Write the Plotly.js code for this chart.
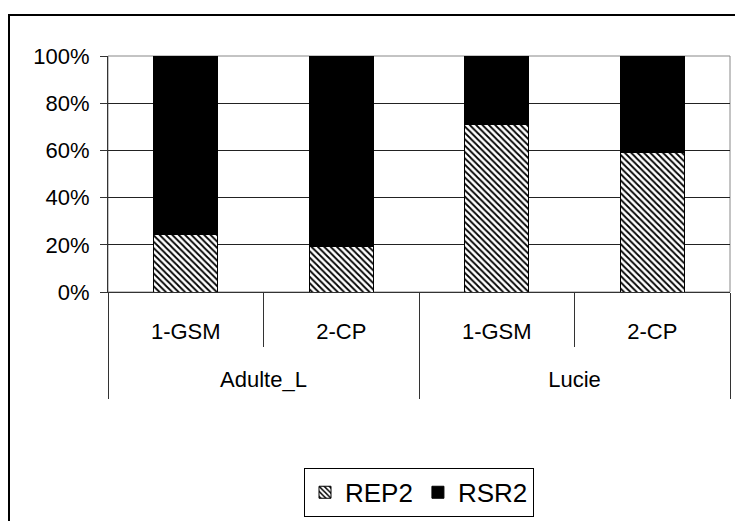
<!DOCTYPE html>
<html>
<head>
<meta charset="utf-8">
<script src="https://cdn.plot.ly/plotly-3.0.1.min.js"></script>
<style>
  html, body { margin: 0; padding: 0; background: #fff; }
  #wrap { position: relative; width: 735px; height: 521px; overflow: hidden; }
  #chart { width: 735px; height: 521px; }
  #frame { position: absolute; left: 8px; top: 14px; width: 800px; height: 600px;
           border: 2px solid #000; pointer-events: none; box-sizing: border-box; }
</style>
</head>
<body>
<div id="wrap">
  <div id="chart"></div>
  <div id="frame"></div>
</div>
<script>
var groups = ["Adulte_L", "Adulte_L", "Lucie", "Lucie"];
var categories = ["1-GSM", "2-CP", "1-GSM", "2-CP"];
var rep2 = [0.244, 0.192, 0.708, 0.593];
var rsr2 = [0.756, 0.808, 0.292, 0.407];
var yTicks = [0, 0.2, 0.4, 0.6, 0.8, 1.0];

var FONT = "Liberation Sans, Arial, sans-serif";

// positions derived from the category list
var idx = categories.map(function (_, i) { return i; });
var catBounds = [-0.5].concat(idx.map(function (i) { return i + 0.5; }));
var groupNames = [], groupCenters = [], groupBounds = [-0.5];
groups.forEach(function (g, i) {
  if (groupNames.length === 0 || groupNames[groupNames.length - 1] !== g) {
    groupNames.push(g);
    groupCenters.push([i]);
    if (i > 0) groupBounds.push(i - 0.5);
  } else {
    groupCenters[groupCenters.length - 1].push(i);
  }
});
groupBounds.push(idx.length - 0.5);
groupCenters = groupCenters.map(function (a) { return (a[0] + a[a.length - 1]) / 2; });
var xRange = [-0.5, idx.length - 0.5];

var traces = [
  {
    type: "bar", name: "REP2",
    x: idx, y: rep2,
    marker: {
      color: "#ffffff",
      line: { color: "#000", width: 1 },
      pattern: { shape: "\\", fgcolor: "#000", bgcolor: "#fff", size: 4.5, solidity: 0.4 }
    },
    hoverinfo: "skip"
  },
  {
    type: "bar", name: "RSR2",
    x: idx, y: rsr2,
    marker: { color: "#000", line: { color: "#000", width: 1 } },
    hoverinfo: "skip"
  },
  {
    type: "scatter", mode: "markers", x: groupCenters, y: groupCenters.map(function () { return null; }),
    xaxis: "x2", yaxis: "y", showlegend: false, hoverinfo: "skip"
  }
];

var layout = {
  width: 735, height: 521,
  margin: { l: 108, r: 5, t: 56, b: 229 },
  paper_bgcolor: "#fff", plot_bgcolor: "#fff",
  font: { family: FONT, size: 22, color: "#000" },
  barmode: "stack",
  bargap: 0.59,
  showlegend: true,
  legend: {
    orientation: "h",
    xref: "paper", x: 0.5, xanchor: "center",
    yref: "container", y: 0.102, yanchor: "top",
    bordercolor: "#000", borderwidth: 1,
    font: { family: FONT, size: 26, color: "#000" },
    itemclick: false, itemdoubleclick: false,
    traceorder: "normal"
  },
  xaxis: {
    range: xRange, fixedrange: true,
    tickmode: "array", tickvals: idx, ticktext: categories,
    ticks: "", showline: true, linecolor: "#333", linewidth: 1,
    minor: { tickmode: "array", tickvals: catBounds, ticks: "outside", ticklen: 54,
             tickcolor: "#333", tickwidth: 1, showgrid: false },
    ticklabelstandoff: 20,
    showgrid: false, zeroline: false,
    tickfont: { family: FONT, size: 22, color: "#000" }
  },
  xaxis2: {
    overlaying: "x", anchor: "y", side: "bottom",
    range: xRange, fixedrange: true,
    tickmode: "array", tickvals: groupCenters, ticktext: groupNames,
    ticks: "", showline: false,
    minor: { tickmode: "array", tickvals: groupBounds, ticks: "outside", ticklen: 106,
             tickcolor: "#333", tickwidth: 1, showgrid: false },
    ticklabelstandoff: 72,
    showgrid: false, zeroline: false,
    tickfont: { family: FONT, size: 22, color: "#000" }
  },
  yaxis: {
    range: [0, 1], tickmode: "array", tickvals: yTicks,
    tickformat: ".0%",
    showline: true, linecolor: "#333", linewidth: 1,
    ticks: "outside", ticklen: 7, tickcolor: "#333",
    ticklabelstandoff: 6,
    showgrid: true, gridcolor: "#222", gridwidth: 1,
    zeroline: false,
    tickfont: { family: FONT, size: 22, color: "#000" },
    fixedrange: true
  },
  shapes: [
    { type: "rect", xref: "paper", yref: "paper", x0: 0, x1: 1, y0: 0, y1: 1,
      line: { color: "#888", width: 1 }, fillcolor: "rgba(0,0,0,0)", layer: "below" }
  ]
};

Plotly.newPlot("chart", traces, layout, { displayModeBar: false, staticPlot: true });
</script>
</body>
</html>
